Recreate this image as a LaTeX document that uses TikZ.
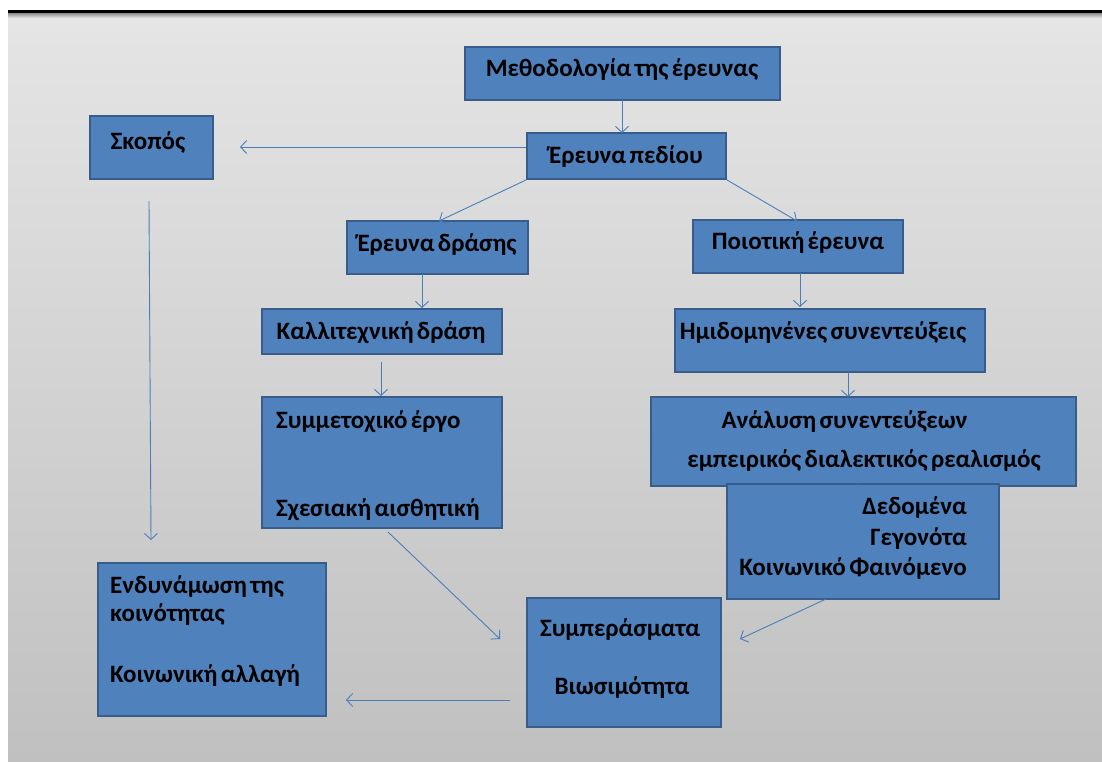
\documentclass[tikz,border=0pt]{standalone}
\usepackage{fontspec}
\setmainfont{Carlito}[WordSpace=0.6]
\usetikzlibrary{arrows.meta}
\definecolor{boxfill}{HTML}{4F81BD}
\definecolor{boxline}{HTML}{385D8A}
\definecolor{arrcol}{HTML}{4A7EBB}
\definecolor{bgtop}{HTML}{E5E5E5}
\definecolor{bgbot}{HTML}{C0C0C0}
\tikzset{
  box/.style={draw=boxline, fill=boxfill, line width=2pt, inner sep=0pt, rectangle},
  txt/.style={font=\bfseries\fontsize{25}{30}\selectfont, text=black, inner sep=0pt},
  arr/.style={draw=arrcol, line width=0.9pt, -{Straight Barb[length=6pt,width=13pt,line width=0.9pt]}},
}
\begin{document}
\begin{tikzpicture}[x=1pt,y=-1pt]
\useasboundingbox (0,0) rectangle (1102,762);
\fill[white] (0,0) rectangle (1102,762);
\shade[top color=bgtop, bottom color=bgbot] (8,14) rectangle (1102,762);
\shade[top color=black!45, bottom color=bgtop] (8,13) rectangle (1102,18);
\fill[black] (8,10) rectangle (1102,13.5);

% boxes
\node[box, minimum width=315pt, minimum height=53pt] (meth) at (622.5,73.5) {};
\node[txt] (methT) at (622,70) {Μεθοδολογία της έρευνας};
\node[box, minimum width=199pt, minimum height=46pt] (pedio) at (626.5,156) {};
\node[txt] (pedioT) at (626,157) {Έρευνα πεδίου};
\node[box, minimum width=123pt, minimum height=63pt] (skopos) at (151.5,147.5) {};
\node[txt] (skoposT) at (148,142) {Σκοπός};
\node[box, minimum width=181pt, minimum height=53pt] (drasi) at (437.5,247.5) {};
\node[txt] (drasiT) at (437,245) {Έρευνα δράσης};
\node[box, minimum width=210pt, minimum height=53pt] (poiot) at (798,246.5) {};
\node[txt] (poiotT) at (798,243) {Ποιοτική έρευνα};
\node[box, minimum width=240pt, minimum height=45pt] (kalli) at (382,331.5) {};
\node[txt] (kalliT) at (381,333) {Καλλιτεχνική δράση};
\node[box, minimum width=310pt, minimum height=63pt] (imid) at (830,340) {};
\node[txt] (imidT) at (823,333) {Ημιδομηνένες συνεντεύξεις};
\node[box, minimum width=240pt, minimum height=131pt] (symm) at (382,462.5) {};
\node[txt, anchor=west] (symmA) at (276,422) {Συμμετοχικό έργο};
\node[txt, anchor=west] (symmB) at (276,510) {Σχεσιακή αισθητική};
\node[box, minimum width=425pt, minimum height=89pt] (anal) at (863.5,441.5) {};
\node[txt] (analA) at (844.5,422) {Ανάλυση συνεντεύξεων};
\node[txt] (analB) at (864,461) {εμπειρικός διαλεκτικός ρεαλισμός};
\node[box, minimum width=272pt, minimum height=115pt] (dedo) at (863,541.5) {};
\node[txt, anchor=east] (dedoA) at (967,508) {Δεδομένα};
\node[txt, anchor=east] (dedoB) at (967,539) {Γεγονότα};
\node[txt, anchor=east] (dedoC) at (967,569) {Κοινωνικό Φαινόμενο};
\node[box, minimum width=228pt, minimum height=153pt] (endy) at (212,639.5) {};
\node[txt, anchor=west] (endyA) at (110,587) {Ενδυνάμωση της};
\node[txt, anchor=west] (endyB) at (110,615) {κοινότητας};
\node[txt, anchor=west] (endyC) at (110,676) {Κοινωνική αλλαγή};
\node[box, minimum width=194pt, minimum height=129pt] (symp) at (624,662.5) {};
\node[txt] (sympA) at (620,630) {Συμπεράσματα};
\node[txt] (sympB) at (622,688) {Βιωσιμότητα};

% connector end points
\coordinate (c1a) at (622,100);
\coordinate (c1b) at (622,133);
\coordinate (c2a) at (526,147);
\coordinate (c2b) at (240,147);
\coordinate (c3b) at (439,221);
\coordinate (c4b) at (797,221);
\coordinate (c5a) at (422,274);
\coordinate (c5b) at (422,308);
\coordinate (c6a) at (800,273);
\coordinate (c6b) at (800,307);
\coordinate (c7a) at (381,362);
\coordinate (c7b) at (381,396);
\coordinate (c8a) at (848,372);
\coordinate (c8b) at (848,397);
\coordinate (c9a) at (857,450);
\coordinate (c9b) at (857,484);
\coordinate (c10a) at (149,201);
\coordinate (c10b) at (151,540);
\coordinate (c11a) at (388,532);
\coordinate (c11b) at (500,639);
\coordinate (c12a) at (826,599);
\coordinate (c12b) at (740,639);
\coordinate (c13a) at (510,700);
\coordinate (c13b) at (346,700);

\draw[arr] (c1a) -- (c1b);
\draw[arr] (c2a) -- (c2b);
\draw[arr] (pedio.south west) -- (c3b);
\draw[arr] (pedio.south east) -- (c4b);
\draw[arr] (c5a) -- (c5b);
\draw[arr] (c6a) -- (c6b);
\draw[arr] (c7a) -- (c7b);
\draw[arr] (c8a) -- (c8b);
\draw[arr, draw opacity=0.35] (c9a) -- (c9b);
\draw[arr] (c10a) -- (c10b);
\draw[arr] (c11a) -- (c11b);
\draw[arr] (c12a) -- (c12b);
\draw[arr] (c13a) -- (c13b);
\end{tikzpicture}
\end{document}
